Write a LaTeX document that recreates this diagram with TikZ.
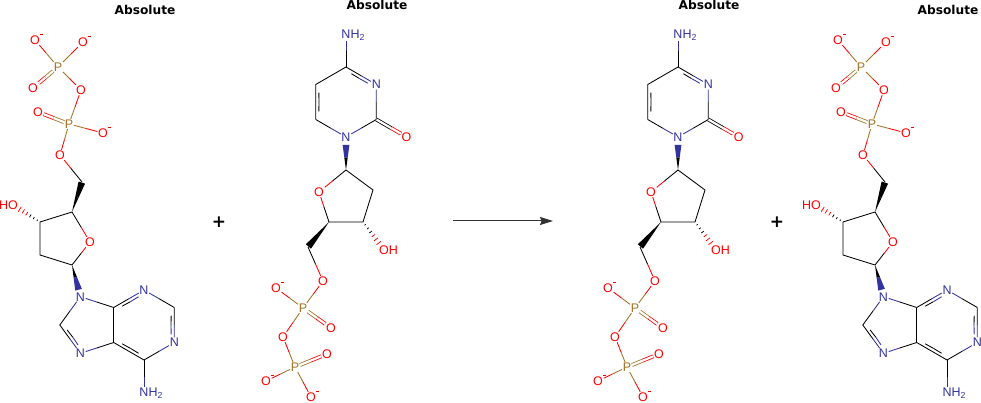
\documentclass[tikz,border=0pt]{standalone}
\usepackage{fontspec}
\setmainfont{Liberation Sans}
\newfontfamily\absfont{DejaVu Sans}
\usetikzlibrary{calc,arrows.meta}
\definecolor{cO}{RGB}{255,0,0}
\definecolor{cN}{RGB}{50,50,160}
\definecolor{cP}{RGB}{160,115,35}
\tikzset{
 bond/.style={line width=0.85pt},
 dbl/.style={line width=0.8pt,double=white,double distance=2.2pt},
 atom/.style={inner sep=0.6pt,font=\fontsize{12.5}{12.5}\selectfont},
 oc/.style={text=cO}, nc/.style={text=cN}, pc/.style={text=cP},
 neg/.style={label={[inner sep=0pt,label distance=-1pt,text=cO]45:\rule{3.5pt}{0.7pt}}},
 abslbl/.style={font=\absfont\bfseries\fontsize{12.2}{12.2}\selectfont},
 plussign/.style={font=\absfont\bfseries\fontsize{17}{17}\selectfont},
 rxn/.style={line width=1pt,color=black!80,-{Stealth[length=13pt,width=8pt,inset=1.5pt]}}
}
% half-coloured single bond
\newcommand\hb[4]{\draw[bond,color=#3] (#1) -- ($(#1)!0.5!(#2)$);\draw[bond,color=#4] ($(#1)!0.5!(#2)$) -- (#2);}
% symmetric double bond
\newcommand\db[4]{\draw[dbl,draw=#3] (#1) -- ($(#1)!0.5!(#2)$);\draw[dbl,draw=#4] ($(#1)!0.5!(#2)$) -- (#2);}
% ring double bond with inner line toward centre #5
\newcommand\ib[5]{\hb{#1}{#2}{#3}{#4}%
 \draw[bond,color=#3] ($(#1)!0.2!(#2)!3.3pt!(#5)$) -- ($(#1)!0.5!(#2)!3.3pt!(#5)$);%
 \draw[bond,color=#4] ($(#1)!0.5!(#2)!3.3pt!(#5)$) -- ($(#1)!0.8!(#2)!3.3pt!(#5)$);}
% wedge bond, narrow at #1
\newcommand\wdg[5]{%
 \pgfmathsetmacro\wm{#5/2}%
 \fill[#3] (#1) -- ($(#1)!\wm!(#2)!1.7pt!90:(#1)$) -- ($(#1)!\wm!(#2)!1.7pt!-90:(#1)$) -- cycle;%
 \fill[#4] ($(#1)!\wm!(#2)!1.7pt!90:(#1)$) -- ($(#1)!#5!(#2)!3.4pt!90:(#1)$) -- ($(#1)!#5!(#2)!3.4pt!-90:(#1)$) -- ($(#1)!\wm!(#2)!1.7pt!-90:(#1)$) -- cycle;}
% hashed bond, narrow at #1
\newcommand\hsh[3]{%
 \foreach \t in {0.1,0.23,0.36,0.49,0.62,0.75}{%
  \pgfmathsetmacro\w{0.4+3.2*\t}%
  \ifdim\t pt<0.45pt\def\hc{black}\else\def\hc{#3}\fi
  \draw[line width=0.75pt,color=\hc] ($(#1)!\t!(#2)!\w pt!90:(#1)$) -- ($(#1)!\t!(#2)!\w pt!-90:(#1)$);}}
% dADP
\newcommand\molA[1]{%
 \node[abslbl] (#1abs) at (145,10) {Absolute};
 \node[atom,oc,neg] (#1o1) at (35,40) {O};
 \node[atom,oc,neg] (#1o2) at (83,42) {O};
 \node[atom,pc] (#1p1) at (58,67) {P};
 \node[atom,oc] (#1o3) at (33,88) {O};
 \node[atom,oc] (#1ob) at (81,90) {O};
 \node[atom,pc] (#1p2) at (69,124) {P};
 \node[atom,oc] (#1o4) at (38,112) {O};
 \node[atom,oc,neg] (#1o5) at (103,133) {O};
 \node[atom,oc] (#1o6) at (60,155) {O};
 \coordinate (#1c5s) at (82,182);
 \coordinate (#1c4s) at (72,212);
 \node[atom,oc] (#1o4s) at (90,242) {O};
 \coordinate (#1c1s) at (72,265);
 \coordinate (#1c2s) at (40,255);
 \coordinate (#1c3s) at (40,222);
 \node[atom,oc] (#1o3s) at (13,205) {\llap{H}O};
 \node[atom,nc] (#1n9) at (80.4,296.7) {N};
 \coordinate (#1c8) at (59.8,325);
 \node[atom,nc] (#1n7) at (80.4,353.3) {N};
 \coordinate (#1c5) at (113.7,342.5);
 \coordinate (#1c4) at (113.7,307.5);
 \node[atom,nc] (#1n3) at (144,290) {N};
 \coordinate (#1c2) at (174.3,307.5);
 \node[atom,nc] (#1n1) at (174.3,342.5) {N};
 \coordinate (#1c6) at (144,360);
 \node[atom,nc] (#1n6) at (144,393) {N\rlap{H\textsubscript{2}}};
 \coordinate (#1r6) at (144,325);
 \coordinate (#1r5) at (89.6,325);
 \hb{#1o1}{#1p1}{cO}{cP}
 \hb{#1o2}{#1p1}{cO}{cP}
 \db{#1p1}{#1o3}{cP}{cO}
 \hb{#1p1}{#1ob}{cP}{cO}
 \hb{#1ob}{#1p2}{cO}{cP}
 \db{#1p2}{#1o4}{cP}{cO}
 \hb{#1p2}{#1o5}{cP}{cO}
 \hb{#1p2}{#1o6}{cP}{cO}
 \hb{#1o6}{#1c5s}{cO}{black}
 \wdg{#1c4s}{#1c5s}{black}{black}{0.98}
 \hb{#1c4s}{#1o4s}{black}{cO}
 \hb{#1o4s}{#1c1s}{cO}{black}
 \draw[bond] (#1c1s) -- (#1c2s) -- (#1c3s) -- (#1c4s);
 \hsh{#1c3s}{#1o3s}{cO}
 \wdg{#1c1s}{#1n9}{black}{cN}{0.78}
 \hb{#1n9}{#1c8}{cN}{black}
 \ib{#1c8}{#1n7}{black}{cN}{#1r5}
 \hb{#1n7}{#1c5}{cN}{black}
 \draw[bond] (#1c5) -- (#1c4);
 \hb{#1c4}{#1n9}{black}{cN}
 \ib{#1c4}{#1n3}{black}{cN}{#1r6}
 \hb{#1n3}{#1c2}{cN}{black}
 \ib{#1c2}{#1n1}{black}{cN}{#1r6}
 \hb{#1n1}{#1c6}{cN}{black}
 \ib{#1c6}{#1c5}{black}{black}{#1r6}
 \hb{#1c6}{#1n6}{black}{cN}
}
% dCDP
\newcommand\molB[1]{%
 \node[abslbl] (#1abs) at (377,5) {Absolute};
 \node[atom,nc] (#1n4) at (346,35) {N\rlap{H\textsubscript{2}}};
 \coordinate (#1c4) at (346,67);
 \node[atom,nc] (#1n3) at (376.3,84.5) {N};
 \coordinate (#1c2) at (376.3,119.5);
 \node[atom,oc] (#1o2) at (406.6,137) {O};
 \node[atom,nc] (#1n1) at (346,137) {N};
 \coordinate (#1c6) at (315.7,119.5);
 \coordinate (#1c5) at (315.7,84.5);
 \coordinate (#1r6) at (346,102);
 \coordinate (#1c1s) at (346,170);
 \node[atom,oc] (#1o4s) at (319,192) {O};
 \coordinate (#1c2s) at (373,190);
 \coordinate (#1c3s) at (363,222);
 \coordinate (#1c4s) at (329,222);
 \coordinate (#1c5s) at (308,247);
 \node[atom,oc] (#1o3s) at (384,250) {O\rlap{H}};
 \node[atom,oc] (#1o5s) at (323,281) {O};
 \node[atom,pc] (#1p1) at (303,308) {P};
 \node[atom,oc,neg] (#1oa) at (276,288) {O};
 \node[atom,oc] (#1ob) at (331,328) {O};
 \node[atom,oc] (#1obr) at (283,337) {O};
 \node[atom,pc] (#1p2) at (295,367) {P};
 \node[atom,oc] (#1oc) at (327,354) {O};
 \node[atom,oc,neg] (#1od) at (266,381) {O};
 \node[atom,oc,neg] (#1oe) at (311,397) {O};
 \hb{#1n4}{#1c4}{cN}{black}
 \ib{#1c4}{#1n3}{black}{cN}{#1r6}
 \hb{#1n3}{#1c2}{cN}{black}
 \db{#1c2}{#1o2}{black}{cO}
 \hb{#1c2}{#1n1}{black}{cN}
 \hb{#1n1}{#1c6}{cN}{black}
 \ib{#1c6}{#1c5}{black}{black}{#1r6}
 \draw[bond] (#1c5) -- (#1c4);
 \wdg{#1c1s}{#1n1}{black}{cN}{0.76}
 \hb{#1c1s}{#1o4s}{black}{cO}
 \hb{#1o4s}{#1c4s}{cO}{black}
 \draw[bond] (#1c1s) -- (#1c2s) -- (#1c3s) -- (#1c4s);
 \hsh{#1c3s}{#1o3s}{cO}
 \wdg{#1c4s}{#1c5s}{black}{black}{0.98}
 \hb{#1c5s}{#1o5s}{black}{cO}
 \hb{#1o5s}{#1p1}{cO}{cP}
 \hb{#1oa}{#1p1}{cO}{cP}
 \db{#1p1}{#1ob}{cP}{cO}
 \hb{#1p1}{#1obr}{cP}{cO}
 \hb{#1obr}{#1p2}{cO}{cP}
 \db{#1p2}{#1oc}{cP}{cO}
 \hb{#1p2}{#1od}{cP}{cO}
 \hb{#1p2}{#1oe}{cP}{cO}
}
\begin{document}
\begin{tikzpicture}[x=1pt,y=-1pt]
\path[fill=white,use as bounding box] (0,0) rectangle (981,403);
\molA{a}
\begin{scope}[xshift=803pt]\molA{d}\end{scope}
\molB{b}
\begin{scope}[xshift=332pt]\molB{c}\end{scope}
\node[plussign] (plus1) at (219,222) {+};
\node[plussign] (plus2) at (777,222) {+};
\coordinate (arrs) at (453,221);
\coordinate (arre) at (553,221);
\draw[rxn] (arrs) -- (arre);
\end{tikzpicture}
\end{document}
